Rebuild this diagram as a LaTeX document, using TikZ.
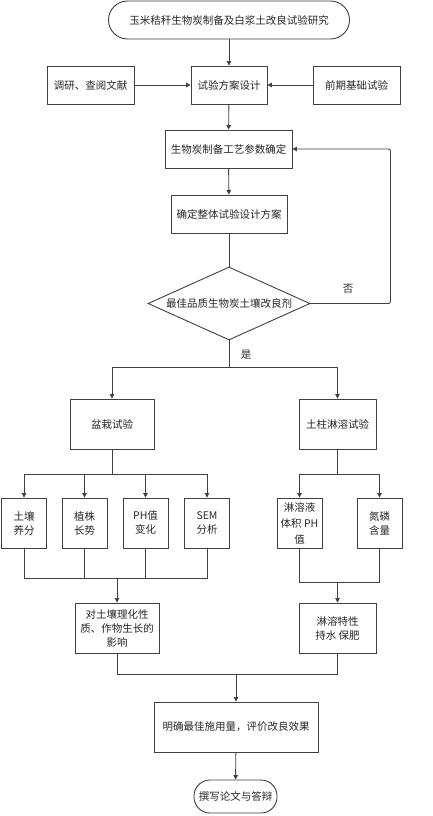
\documentclass[tikz,border=0pt]{standalone}
\usepackage{fontspec}
\setmainfont{Noto Sans CJK SC}
\usetikzlibrary{shapes.geometric,arrows.meta}
\tikzset{
  box/.style={draw=black!75,line width=0.9pt,inner sep=0pt,align=center,
    text=black!85,font=\fontsize{10.5}{14}\selectfont},
  term/.style={box,rounded corners=#1},
  choice/.style={box,shape=diamond,aspect=2.2},
  link/.style={draw=black!75,line width=0.9pt},
  arr/.style={link,-{Triangle[length=4.5pt,width=4.5pt]}},
  tag/.style={text=black!85,font=\fontsize{10.5}{14}\selectfont}
}
\begin{document}
\begin{tikzpicture}[x=1pt,y=-1pt]
        \useasboundingbox (0,0) rectangle (432,816);
        \node[term=19pt,minimum width=241pt,minimum height=38pt] (title) at (229,20){玉米秸秆生物炭制备及白浆土改良试验研究};
        \node[box,minimum width=87pt,minimum height=38pt] (lit) at (90.5,85){调研、查阅文献};
        \node[box,minimum width=76pt,minimum height=38pt] (plan) at (229,85){试验方案设计};
        \node[box,minimum width=87pt,minimum height=38pt] (pre) at (356.5,85){前期基础试验};
        \node[box,minimum width=127pt,minimum height=38pt] (param) at (228.5,149){生物炭制备工艺参数确定};
        \node[box,minimum width=116pt,minimum height=38pt] (whole) at (229,214){确定整体试验设计方案};
        \node[choice,minimum width=162pt,minimum height=73pt] (best) at (229,303.5){最佳品质生物炭土壤改良剂};
        \node[tag] (no) at (348,289){否};
        \node[tag] (yes) at (246,355){是};

        \node[box,minimum width=84pt,minimum height=50pt] (pot) at (112,424){盆栽试验};
        \node[box,minimum width=77pt,minimum height=50pt] (col) at (337.5,424){土柱淋溶试验};

        \node[box,minimum width=45pt,minimum height=50pt] (soil) at (24,523){土壤\\养分};
        \node[box,minimum width=45pt,minimum height=50pt] (plant) at (84.5,523){植株\\长势};
        \node[box,minimum width=45pt,minimum height=50pt] (ph) at (145.5,523){PH值\\变化};
        \node[box,minimum width=45pt,minimum height=50pt] (sem) at (207,523){SEM\\分析};
        \node[box,minimum width=45pt,minimum height=50pt] (vol) at (299.5,523){淋溶液\\[2pt]体积 PH\\[2pt]值};
        \node[box,minimum width=45pt,minimum height=50pt] (np) at (379.5,523){氮磷\\含量};

        \node[box,minimum width=84pt,minimum height=50pt] (effect) at (117,628){对土壤理化性\\质、作物生长的\\影响};
        \node[box,minimum width=77pt,minimum height=50pt] (leach) at (337.5,628){淋溶特性\\持水 保肥};
        \node[box,minimum width=164pt,minimum height=50pt] (dose) at (236,727){明确最佳施用量，评价改良效果};
        \node[term=16pt,minimum width=83pt,minimum height=33pt] (write) at (235.5,796.5){撰写论文与答辩};

        \coordinate (mleft) at (117,578);
        \coordinate (mright) at (337.5,582);
        \coordinate (mdown) at (236,674);

        \draw[arr] (title) -- (plan);
        \draw[arr] (lit) -- (plan);
        \draw[arr] (pre) -- (plan);
        \draw[arr] (plan) -- (param);
        \draw[arr] (param) -- (whole);
        \draw[link] (whole) -- (best);
        \draw[arr,rounded corners=2pt] (best.east) -- ++(80,0) |- (param.east);
        \draw[arr] (best.south) -- ++(0,27) -| (pot.north);
        \draw[arr] (best.south) -- ++(0,27) -| (col.north);

        \foreach \n in {soil,plant,ph,sem}
          \draw[arr] (pot.south) -- ++(0,25) -| (\n.north);
        \foreach \n in {vol,np}
          \draw[arr] (col.south) -- ++(0,25) -| (\n.north);

        \foreach \n in {soil,plant,ph,sem}
          \draw[link] (\n.south) |- (mleft);
        \draw[arr] (mleft) -- (effect.north);
        \foreach \n in {vol,np}
          \draw[link] (\n.south) |- (mright);
        \draw[arr] (mright) -- (leach.north);

        \draw[link] (effect.south) |- (mdown);
        \draw[link] (leach.south) |- (mdown);
        \draw[arr] (mdown) -- (dose.north);
        \draw[arr] (dose) -- (write);
      \end{tikzpicture}
\end{document}
